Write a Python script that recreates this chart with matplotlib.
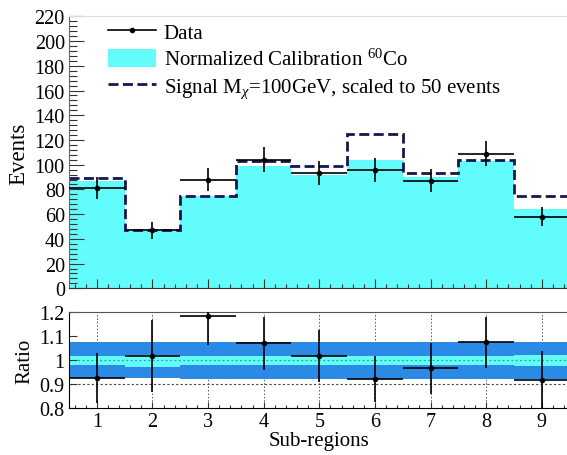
import numpy as np
import matplotlib
matplotlib.use("Agg")
import matplotlib.pyplot as plt
from matplotlib.lines import Line2D
from matplotlib.patches import Patch
from matplotlib.ticker import MultipleLocator, FormatStrFormatter

plt.rcParams['font.family'] = ['Liberation Serif', 'DejaVu Serif']
plt.rcParams['mathtext.fontset'] = 'custom'
plt.rcParams['mathtext.rm'] = 'Liberation Serif'
plt.rcParams['mathtext.it'] = 'Liberation Serif:italic'

# ---- data ----
regions = [1, 2, 3, 4, 5, 6, 7, 8, 9]
data_counts = [81, 47, 88, 104, 93, 96, 87, 109, 58]
data_errors = [9.0, 7.0, 9.4, 10.2, 9.6, 9.8, 9.3, 10.4, 7.6]
calibration = [87, 47, 75, 99, 92, 104, 90, 103, 64]
signal = [89, 47, 75, 103, 99, 124.5, 93, 104, 75]

ratio_values = [0.926, 1.017, 1.183, 1.071, 1.019, 0.922, 0.967, 1.075, 0.917]
ratio_errors = [0.103, 0.150, 0.120, 0.110, 0.108, 0.095, 0.107, 0.105, 0.120]
band_outer_low = [0.925, 0.925, 0.922, 0.922, 0.922, 0.922, 0.922, 0.922, 0.922]
band_outer_high = [1.078, 1.078, 1.077, 1.077, 1.077, 1.077, 1.077, 1.077, 1.077]
band_inner_low = [0.982, 0.972, 0.982, 0.982, 0.982, 0.982, 0.982, 0.982, 0.977]
band_inner_high = [1.019, 1.023, 1.017, 1.017, 1.017, 1.017, 1.017, 1.017, 1.023]

y_ticks_top = [0, 20, 40, 60, 80, 100, 120, 140, 160, 180, 200, 220]
y_ticks_ratio = [0.8, 0.9, 1.0, 1.1, 1.2]

x = np.array(regions, dtype=float)
edges = np.append(x - 0.5, x[-1] + 0.5)

CYAN = '#62fcfc'
BLUE = '#2a8ae6'
NAVY = '#16164f'
TICK_FS = 14.5

W, H = 567, 456
fig = plt.figure(figsize=(W / 100, H / 100), dpi=100)

def px_axes(l, t, r, b):
    return fig.add_axes([l / W, 1 - b / H, (r - l) / W, (b - t) / H])

ax = px_axes(69, 17.4, 569.6, 289.3)
axr = px_axes(69, 313.3, 569.6, 409.3)

# ---- top panel ----
ax.stairs(calibration, edges, baseline=0, fill=True, color=CYAN, lw=0, zorder=1)
ax.stairs(signal, edges, baseline=None, color=NAVY, lw=2.0,
          linestyle=(0, (3.6, 1.6)), zorder=2)
ax.errorbar(x, data_counts, yerr=data_errors, xerr=0.5, fmt='o', color='black',
            ms=3, lw=1.2, capsize=0, zorder=3)

ax.set_xlim(0.5, 9.5)
ax.set_ylim(0, 220)
ax.set_yticks(y_ticks_top)
ax.yaxis.set_minor_locator(MultipleLocator(4))
ax.xaxis.set_major_locator(MultipleLocator(1))
ax.xaxis.set_minor_locator(MultipleLocator(0.2))
ax.tick_params(axis='y', which='major', direction='in', length=10.8, width=0.8,
               labelsize=TICK_FS, pad=3, colors='#333333', labelcolor='black')
ax.tick_params(axis='y', which='minor', direction='in', length=5.4, width=0.8, colors='#333333')
ax.tick_params(axis='x', which='major', direction='in', length=6.5, width=0.8,
               labelbottom=False, colors='#333333')
ax.tick_params(axis='x', which='minor', direction='in', length=3.2, width=0.8, colors='#333333')
ax.set_ylabel('Events', fontsize=16.5)
ax.yaxis.set_label_coords(-0.080, 0.5)
ax.spines['top'].set_color('#dddddd')
ax.spines['right'].set_visible(False)
ax.spines['left'].set_color('#666666')
ax.spines['bottom'].set_color('#333333')

handles = [
    Line2D([], [], color='black', marker='o', ms=3, lw=1.2),
    Patch(facecolor=CYAN, edgecolor='none'),
    Line2D([], [], color=NAVY, lw=2.0, linestyle=(0, (3.6, 1.6))),
]
labels = ['Data', 'Normalized Calibration $^{60}$Co',
          r'Signal M$_{\chi}$=100GeV, scaled to 50 events']
fig.legend(handles, labels, loc='upper left', bbox_to_anchor=(108 / W, 1 - 23 / H),
           frameon=False, fontsize=15, handlelength=2.3, handletextpad=0.38,
           labelspacing=0.3, borderpad=0, borderaxespad=0, handleheight=0.9)

# ---- ratio panel ----
for xv in regions:
    axr.axvline(xv, color='#555555', lw=0.7, ls=(0, (1.5, 2)), zorder=0.5)
axr.stairs(band_outer_high, edges, baseline=band_outer_low, fill=True, color=BLUE, lw=0, zorder=1)
axr.stairs(band_inner_high, edges, baseline=band_inner_low, fill=True, color=CYAN, lw=0, zorder=1.2)
axr.axhline(0.9, color='#444444', lw=0.8, ls=(0, (2, 2)), zorder=1.5)
axr.axhline(1.0, color='#3aa37a', lw=0.9, ls=(0, (1.5, 2)), zorder=1.5)
axr.errorbar(x, ratio_values, yerr=ratio_errors, xerr=0.5, fmt='o', color='black',
             ms=3, lw=1.2, capsize=0, zorder=3)

axr.set_xlim(0.5, 9.5)
axr.set_ylim(0.8, 1.2)
axr.set_yticks(y_ticks_ratio)
axr.yaxis.set_major_formatter(FormatStrFormatter('%g'))
axr.xaxis.set_major_locator(MultipleLocator(1))
axr.xaxis.set_minor_locator(MultipleLocator(0.2))
axr.tick_params(axis='y', which='major', direction='in', length=5.8, width=0.8,
                labelsize=TICK_FS, pad=3, colors='#333333', labelcolor='black')
axr.tick_params(axis='x', which='major', direction='in', length=4.2, width=0.8,
                labelsize=TICK_FS, pad=3, colors='#333333', labelcolor='black')
axr.tick_params(axis='x', which='minor', direction='in', length=2.2, width=0.8, colors='#333333')
axr.set_ylabel('Ratio', fontsize=15)
axr.yaxis.set_label_coords(-0.070, 0.5)
axr.set_xlabel('Sub-regions', fontsize=15, labelpad=0)
axr.spines['top'].set_color('#555555')
axr.spines['right'].set_visible(False)

fig.savefig('out.png', dpi=100)
